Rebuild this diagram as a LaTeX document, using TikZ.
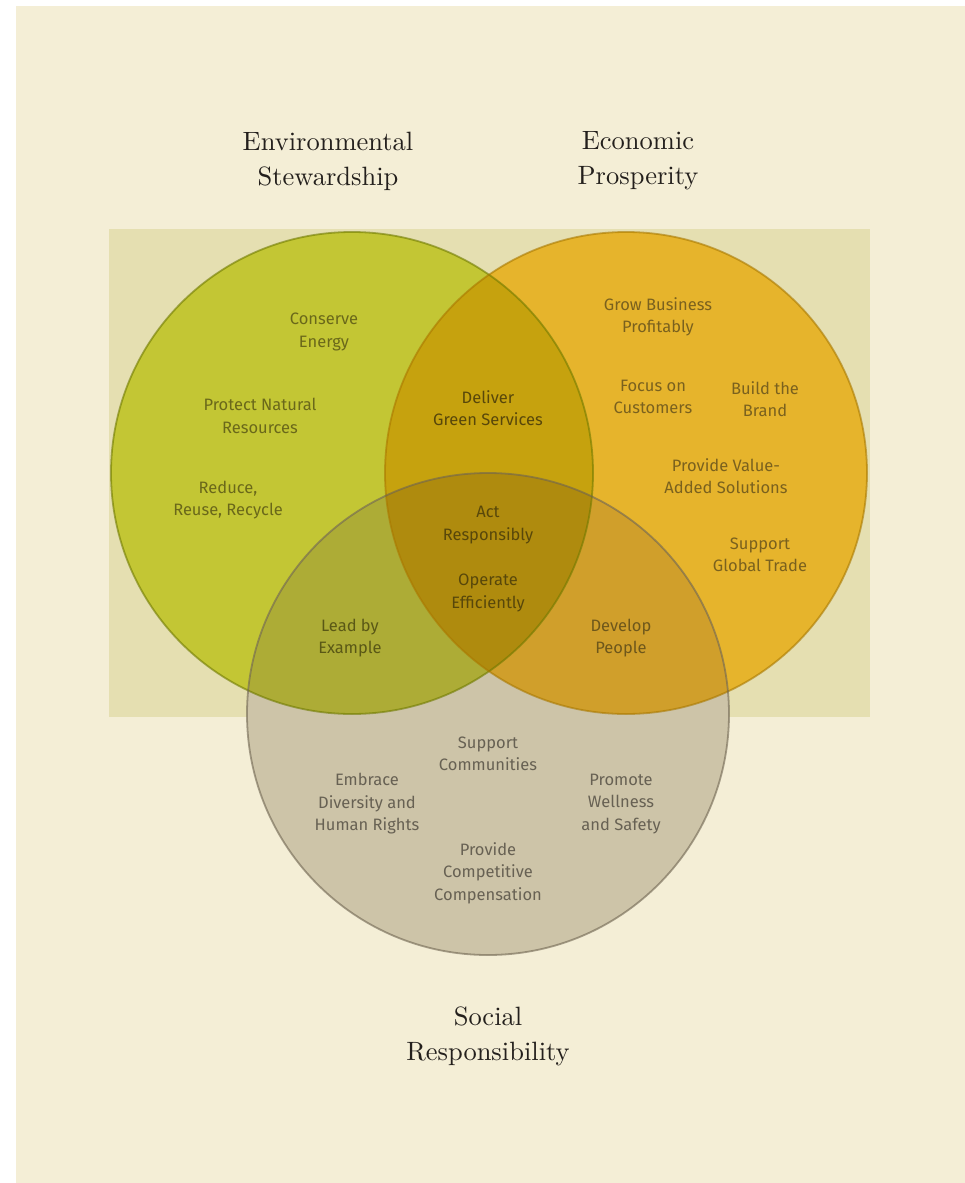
\documentclass[tikz,border=0pt]{standalone}
\usepackage{fontspec}
\setsansfont{Fira Sans}
\newfontfamily\headfont{lmroman10-regular.otf}

\definecolor{pagecream}{HTML}{F4EED6}
\definecolor{bandtan}{HTML}{E5DFB1}
\definecolor{envfill}{HTML}{C3C634}
\definecolor{ecofill}{HTML}{E6B42C}
\definecolor{socfill}{HTML}{CDC4A8}
\definecolor{envecofill}{HTML}{C6A20E}
\definecolor{envsocfill}{HTML}{ADAC36}
\definecolor{ecosocfill}{HTML}{D09F2B}
\definecolor{corefill}{HTML}{AF8B0E}
\definecolor{envedge}{HTML}{6F7A00}
\definecolor{ecoedge}{HTML}{A87800}
\definecolor{socedge}{HTML}{6E6450}
\definecolor{envtext}{HTML}{6A681A}
\definecolor{ecotext}{HTML}{7A611E}
\definecolor{soctext}{HTML}{676153}
\definecolor{coretext}{HTML}{58470A}
\definecolor{titletext}{HTML}{231F1C}

\begin{document}
\begin{tikzpicture}[x=1pt,y=-1pt,
    item/.style={font=\sffamily\fontsize{16.5}{22.5}\selectfont,align=center,inner sep=0pt},
    heading/.style={font=\headfont\fontsize{26.5}{35}\selectfont,align=center,text=titletext,inner sep=0pt},
    rim/.style={line width=1.8pt,draw opacity=0.6}]
        \useasboundingbox (0,0) rectangle (965,1183);
        \fill[white] (0,0) rectangle (965,1183);
        \fill[pagecream] (16,6) rectangle (965,1183);
        \fill[bandtan] (109,229) rectangle (870,717);

        \coordinate (E) at (352,473);
        \coordinate (P) at (626,473);
        \coordinate (S) at (488,714);
        \def\rad{241pt}

        % single circles
        \fill[envfill] (E) circle (\rad);
        \fill[ecofill] (P) circle (\rad);
        \fill[socfill] (S) circle (\rad);

        % pairwise overlaps
        \begin{scope}
            \clip (E) circle (\rad);
            \fill[envecofill] (P) circle (\rad);
            \fill[envsocfill] (S) circle (\rad);
        \end{scope}
        \begin{scope}
            \clip (P) circle (\rad);
            \fill[ecosocfill] (S) circle (\rad);
        \end{scope}

        % centre
        \begin{scope}
            \clip (E) circle (\rad);
            \clip (P) circle (\rad);
            \fill[corefill] (S) circle (\rad);
        \end{scope}

        \draw[rim,envedge] (E) circle (\rad);
        \draw[rim,ecoedge] (P) circle (\rad);
        \draw[rim,socedge] (S) circle (\rad);

        \node[heading] (envtitle) at (328,161) {Environmental\\Stewardship};
        \node[heading] (ecotitle) at (638,161) {Economic\\Prosperity};
        \node[heading] (soctitle) at (488,1036) {Social\\Responsibility};

        \node[item,text=envtext] (conserve) at (324,332) {Conserve\\Energy};
        \node[item,text=envtext] (protect)  at (260,416) {Protect Natural\\Resources};
        \node[item,text=envtext] (reduce)   at (228,500) {Reduce,\\Reuse, Recycle};

        \node[item,text=coretext] (deliver) at (488,408) {Deliver\\Green Services};

        \node[item,text=ecotext] (grow)    at (658,317) {Grow Business\\Profitably};
        \node[item,text=ecotext] (focus)   at (653,397) {Focus on\\Customers};
        \node[item,text=ecotext] (brand)   at (765,399) {Build the\\Brand};
        \node[item,text=ecotext] (value)   at (726,476) {Provide Value-\\Added Solutions};
        \node[item,text=ecotext] (trade)   at (760,555) {Support\\Global Trade};

        \node[item,text=coretext] (act)     at (488,525) {Act\\Responsibly};
        \node[item,text=coretext] (operate) at (488,593) {Operate\\Efficiently};

        \node[item,text=envtext!85!black] (lead)    at (350,638) {Lead by\\Example};
        \node[item,text=ecotext!90!black] (develop) at (621,638) {Develop\\People};

        \node[item,text=soctext] (communities) at (488,754) {Support\\Communities};
        \node[item,text=soctext] (diversity)   at (367,804) {Embrace\\Diversity and\\Human Rights};
        \node[item,text=soctext] (wellness)    at (621,804) {Promote\\Wellness\\and Safety};
        \node[item,text=soctext] (pay)         at (488,873) {Provide\\Competitive\\Compensation};
    \end{tikzpicture}
\end{document}
